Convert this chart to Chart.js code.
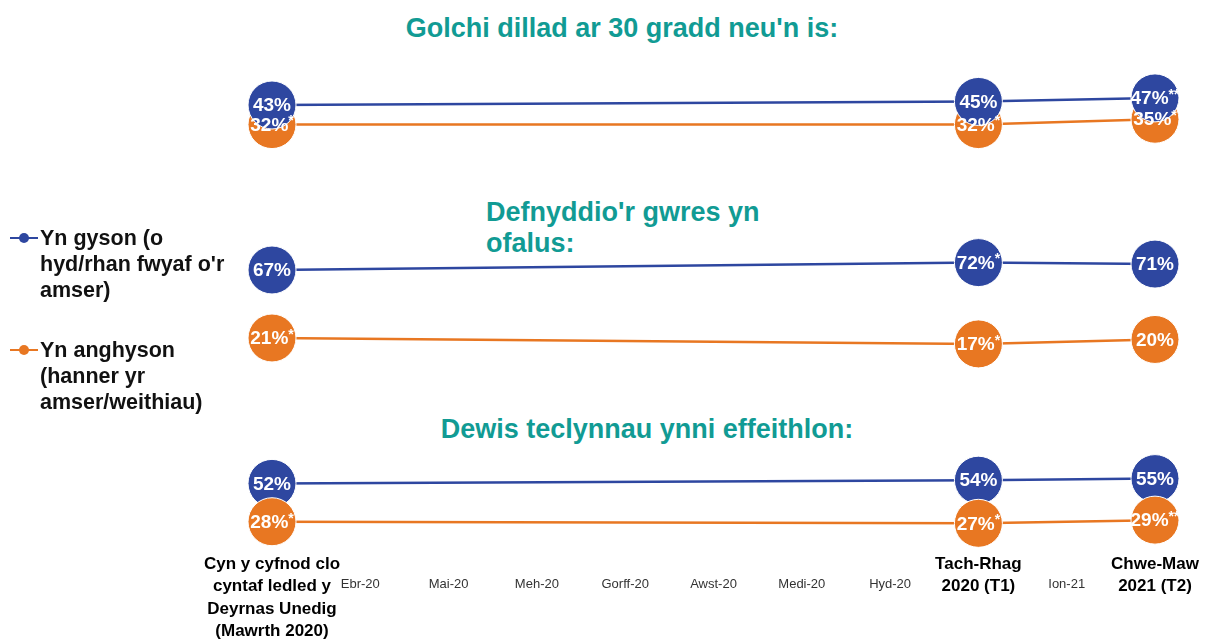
<!DOCTYPE html>
<html><head><meta charset="utf-8">
<script src="https://cdn.jsdelivr.net/npm/chart.js@4/dist/chart.umd.min.js"></script>
<style>
html,body{margin:0;padding:0;background:#fff;width:1210px;height:639px;overflow:hidden;font-family:"Liberation Sans",Arial,sans-serif;}
.t{position:absolute;color:#119b94;font-weight:bold;font-size:27px;line-height:32px;white-space:nowrap;}
canvas{position:absolute;left:0;}
.lg{position:absolute;left:40px;font-weight:bold;font-size:21.5px;line-height:26px;color:#111;white-space:nowrap;z-index:2;}
.mk{position:absolute;left:10px;width:28px;height:2px;z-index:2;}
.dot{position:absolute;left:19px;width:10px;height:10px;border-radius:50%;z-index:2;}
</style></head><body>
<div id="titles"></div>
<div id="legend"></div>
<canvas id="c1" width="1210" height="100" style="top:60px"></canvas>
<canvas id="c2" width="1210" height="140" style="top:230px"></canvas>
<canvas id="c3" width="1210" height="207" style="top:440px"></canvas>
<script>
// ---- data ----
const categories = [
  ['Cyn y cyfnod clo','cyntaf ledled y','Deyrnas Unedig','(Mawrth 2020)'],
  'Ebr-20','Mai-20','Meh-20','Gorff-20','Awst-20','Medi-20','Hyd-20',
  ['Tach-Rhag','2020 (T1)'],
  'Ion-21',
  ['Chwe-Maw','2021 (T2)']
];
const seriesNames = ["Yn gyson (o hyd/rhan fwyaf o'r amser)", "Yn anghyson (hanner yr amser/weithiau)"];
const legendLines = [["Yn gyson (o","hyd/rhan fwyaf o'r","amser)"], ["Yn anghyson","(hanner yr","amser/weithiau)"]];
const panelTitles = [["Golchi dillad ar 30 gradd neu'n is:"], ["Defnyddio'r gwres yn","ofalus:"], ["Dewis teclynnau ynni effeithlon:"]];

const golchiCyson      = [43, null, null, null, null, null, null, null, 45, null, 47];
const golchiAnghyson   = [32, null, null, null, null, null, null, null, 32, null, 35];
const golchiCysonSig   = ['', null, null, null, null, null, null, null, '', null, '**'];
const golchiAnghysonSig= ['*', null, null, null, null, null, null, null, '*', null, '*'];

const gwresCyson       = [67, null, null, null, null, null, null, null, 72, null, 71];
const gwresAnghyson    = [21, null, null, null, null, null, null, null, 17, null, 20];
const gwresCysonSig    = ['', null, null, null, null, null, null, null, '*', null, ''];
const gwresAnghysonSig = ['*', null, null, null, null, null, null, null, '*', null, ''];

const dewisCyson       = [52, null, null, null, null, null, null, null, 54, null, 55];
const dewisAnghyson    = [28, null, null, null, null, null, null, null, 27, null, 29];
const dewisCysonSig    = ['', null, null, null, null, null, null, null, '', null, ''];
const dewisAnghysonSig = ['*', null, null, null, null, null, null, null, '*', null, '**'];

// ---- styles ----
const BLUE = '#2e47a0';
const ORANGE = '#e87722';
const FONT = '"Liberation Sans", Arial, sans-serif';

// titles
const titleStyles = [
  'left:622px;top:12px;transform:translateX(-50%);',
  'left:486px;top:197px;line-height:31px;',
  'left:647px;top:413px;transform:translateX(-50%);'
];
document.getElementById('titles').innerHTML = panelTitles.map((lines, i) =>
  `<div class="t" style="${titleStyles[i]}">${lines.join('<br>')}</div>`).join('');

// legend
const legendTops = [225, 337];
const legendColors = [BLUE, ORANGE];
document.getElementById('legend').innerHTML = legendLines.map((lines, i) =>
  `<div class="mk" style="top:${legendTops[i]+12}px;background:${legendColors[i]}"></div>` +
  `<div class="dot" style="top:${legendTops[i]+8}px;background:${legendColors[i]}"></div>` +
  `<div class="lg" style="top:${legendTops[i]}px">${lines.join('<br>')}</div>`).join('');

const pctLabels = {
  id: 'pctLabels',
  afterDatasetsDraw(chart) {
    const ctx = chart.ctx;
    chart.data.datasets.forEach((ds, di) => {
      const meta = chart.getDatasetMeta(di);
      meta.data.forEach((pt, i) => {
        const v = ds.data[i];
        if (v == null) return;
        const main = v + '%';
        const sup = (ds.marks && ds.marks[i]) || '';
        ctx.save();
        ctx.font = 'bold 19px ' + FONT;
        const wm = ctx.measureText(main).width;
        ctx.font = 'bold 14px ' + FONT;
        const ws = sup ? ctx.measureText(sup).width : 0;
        const x0 = pt.x - (wm + ws) / 2;
        ctx.fillStyle = '#fff';
        ctx.textBaseline = 'middle';
        ctx.textAlign = 'left';
        ctx.font = 'bold 19px ' + FONT;
        ctx.fillText(main, x0, pt.y + 1);
        if (sup) {
          ctx.font = 'bold 14px ' + FONT;
          ctx.fillText(sup, x0 + wm, pt.y - 3);
        }
        ctx.restore();
      });
    });
  }
};

function ds(label, data, marks, color, order) {
  return {
    label, data, marks,
    borderColor: color, backgroundColor: color,
    pointBackgroundColor: color, pointBorderColor: '#ffffff', pointBorderWidth: 1,
    pointRadius: 24, pointHoverRadius: 24, borderWidth: 2.5,
    spanGaps: true, clip: false, order, tension: 0
  };
}

function makeChart(id, blue, orange, blueMarks, orangeMarks, yMin, yMax, showX, orangeOnTop) {
  new Chart(document.getElementById(id), {
    type: 'line',
    data: {
      labels: categories,
      datasets: [
        ds(seriesNames[0], blue, blueMarks, BLUE, orangeOnTop ? 1 : 0),
        ds(seriesNames[1], orange, orangeMarks, ORANGE, 0)
      ]
    },
    options: {
      responsive: false, animation: false, events: [],
      layout: { autoPadding: false, padding: { left: 272, right: 55, top: 0, bottom: 0 } },
      plugins: { legend: { display: false }, tooltip: { enabled: false } },
      scales: {
        x: {
          display: showX, offset: false,
          grid: { display: false, drawTicks: false }, border: { display: false },
          ticks: {
            autoSkip: false, maxRotation: 0, minRotation: 0, padding: 4,
            color: c => Array.isArray(categories[c.index]) ? '#000' : '#333',
            font: c => Array.isArray(categories[c.index])
              ? { family: FONT, size: 17, weight: 'bold', lineHeight: '22.5px' }
              : { family: FONT, size: 13, weight: 'normal', lineHeight: '62px' }
          }
        },
        y: { display: false, min: yMin, max: yMax }
      }
    },
    plugins: [pctLabels]
  });
}

makeChart('c1', golchiCyson, golchiAnghyson, golchiCysonSig, golchiAnghysonSig, 12.1, 68.28, false, false);
makeChart('c2', gwresCyson, gwresAnghyson, gwresCysonSig, gwresAnghysonSig, -0.66, 94.06, false, false);
makeChart('c3', dewisCyson, dewisAnghyson, dewisCysonSig, dewisAnghysonSig, 10.93, 79.16, true, true);
</script>
</body></html>
